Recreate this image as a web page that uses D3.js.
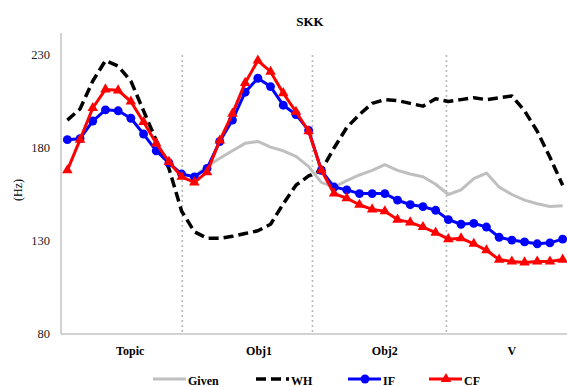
<!DOCTYPE html>
<html>
<head>
<meta charset="utf-8">
<script src="https://cdn.jsdelivr.net/npm/d3@7"></script>
<style>
  body { margin: 0; background: #fff; }
  svg { display: block; font-family: "Liberation Serif", "Times New Roman", serif; }
</style>
</head>
<body>
<div id="chart"></div>
<script>
// Chart data, 40 time points
const categories = ['Topic', 'Obj1', 'Obj2', 'V'];
const catCenters = [4.95, 15.1, 25, 35];     // label positions, in point-index units
const boundaries = [9.05, 19.3, 29.85];      // dotted separators, in point-index units
const yTicks = [80, 130, 180, 230];

const givenVals = [null, null, null, null, null, null, null, null, null, null,
  165, 170, 174.5, 178.5, 182.5, 183.5, 180.5, 178.5, 175.5, 170,
  161.5, 159, 162.5, 165.5, 168, 171, 168, 166, 164.5, 160.5,
  155, 157.5, 163.5, 166.5, 159, 155, 152, 150, 148.5, 149];
const whVals = [195, 201, 216, 227, 224, 216, 200, 184, 169, 146,
  135, 131.5, 131.5, 132.5, 134, 135.5, 139, 150, 160, 165,
  168, 180, 191, 198, 204, 206, 205.5, 204, 202.5, 206.5,
  205, 206, 207, 206, 207, 208, 200, 189, 175, 160];
const ifVals = [184.5, 185, 194.5, 200.5, 200, 196, 187.5, 178.5, 172, 166,
  164.5, 169, 183.5, 195, 210, 217.5, 213, 203, 198, 189.5,
  168, 159, 157.5, 155.5, 155.5, 155.5, 152, 149.5, 148.5, 146.5,
  141.5, 139, 139.5, 137.5, 132, 130.5, 129.5, 128.5, 129, 131];
const cfVals = [168, 184.5, 201.5, 211.5, 211, 205, 194, 182.5, 172.5, 164.5,
  161.5, 167, 184, 198.5, 215, 227, 221, 209.5, 199.5, 189,
  168, 155.5, 153, 149.5, 147, 146, 141.5, 140, 137.5, 134.5,
  131, 131.5, 128.5, 125, 120, 119, 118.5, 119, 119, 120];

const width = 567;
const height = 387;
const plot = { left: 61, right: 569, top: 33, bottom: 334 };

const svg = d3.select('#chart')
  .append('svg')
  .attr('width', width)
  .attr('height', height);

const xScale = d3.scaleLinear()
  .domain([-0.5, 39.5])
  .range([plot.left, plot.right]);

const yScale = d3.scaleLinear()
  .domain([80, 230])
  .range([334, 55]);

// Title
svg.append('text')
  .attr('x', 310)
  .attr('y', 26)
  .attr('text-anchor', 'middle')
  .attr('font-size', 13)
  .attr('font-weight', 'bold')
  .text('SKK');

// Axis lines
svg.append('line')
  .attr('x1', plot.left).attr('x2', plot.left)
  .attr('y1', plot.top).attr('y2', plot.bottom)
  .attr('stroke', '#a6a6a6').attr('stroke-width', 1);
svg.append('line')
  .attr('x1', plot.left).attr('x2', width)
  .attr('y1', plot.bottom).attr('y2', plot.bottom)
  .attr('stroke', '#a6a6a6').attr('stroke-width', 1);

// Y tick labels
svg.selectAll('.ytick')
  .data(yTicks)
  .join('text')
  .attr('class', 'ytick')
  .attr('x', 50)
  .attr('y', d => yScale(d) + 4)
  .attr('text-anchor', 'end')
  .attr('font-size', 12.5)
  .attr('fill', '#222')
  .text(d => d);

// Y axis title
svg.append('text')
  .attr('transform', 'translate(22,190) rotate(-90)')
  .attr('text-anchor', 'middle')
  .attr('font-size', 12)
  .text('(Hz)');

// Dotted separators between sentence parts
svg.selectAll('.sep')
  .data(boundaries)
  .join('line')
  .attr('class', 'sep')
  .attr('x1', d => xScale(d)).attr('x2', d => xScale(d))
  .attr('y1', yScale(230)).attr('y2', plot.bottom)
  .attr('stroke', '#b8b8b8')
  .attr('stroke-width', 1.6)
  .attr('stroke-dasharray', '2,3');

// Category labels
svg.selectAll('.cat')
  .data(categories)
  .join('text')
  .attr('class', 'cat')
  .attr('x', (d, i) => xScale(catCenters[i]))
  .attr('y', 355)
  .attr('text-anchor', 'middle')
  .attr('font-size', 12)
  .attr('font-weight', 'bold')
  .text(d => d);

// Lines
const lineGen = d3.line()
  .defined(d => d !== null)
  .x((d, i) => xScale(i))
  .y(d => yScale(d));

const series = [
  { name: 'Given', values: givenVals, color: '#bfbfbf', width: 3, dash: null, marker: null },
  { name: 'WH', values: whVals, color: '#000', width: 3.5, dash: '10,5', marker: null },
  { name: 'IF', values: ifVals, color: '#0000ff', width: 3, dash: null, marker: d3.symbolCircle, size: 62 },
  { name: 'CF', values: cfVals, color: '#ff0000', width: 3, dash: null, marker: d3.symbolTriangle, size: 48 },
];

series.forEach(s => {
  svg.append('path')
    .datum(s.values)
    .attr('fill', 'none')
    .attr('stroke', s.color)
    .attr('stroke-width', s.width)
    .attr('stroke-dasharray', s.dash)
    .attr('stroke-linejoin', 'round')
    .attr('d', lineGen);

  if (s.marker) {
    svg.append('g')
      .selectAll('path')
      .data(s.values.map((v, i) => [i, v]).filter(d => d[1] !== null))
      .join('path')
      .attr('transform', d => `translate(${xScale(d[0])},${yScale(d[1])})`)
      .attr('d', d3.symbol().type(s.marker).size(s.size))
      .attr('fill', s.color);
  }
});

// Legend
const legendX = [153, 256, 348, 429];
const legendY = 379;
series.forEach((s, i) => {
  const g = svg.append('g').attr('transform', `translate(${legendX[i]},${legendY})`);
  g.append('line')
    .attr('x1', 0).attr('x2', 33)
    .attr('stroke', s.color)
    .attr('stroke-width', s.width)
    .attr('stroke-dasharray', s.dash);
  if (s.marker) {
    g.append('path')
      .attr('transform', 'translate(17,0)')
      .attr('d', d3.symbol().type(s.marker).size(s.size))
      .attr('fill', s.color);
  }
  g.append('text')
    .attr('x', 35)
    .attr('y', 6)
    .attr('font-size', 12)
    .attr('font-weight', 'bold')
    .text(s.name);
});
</script>
</body>
</html>
